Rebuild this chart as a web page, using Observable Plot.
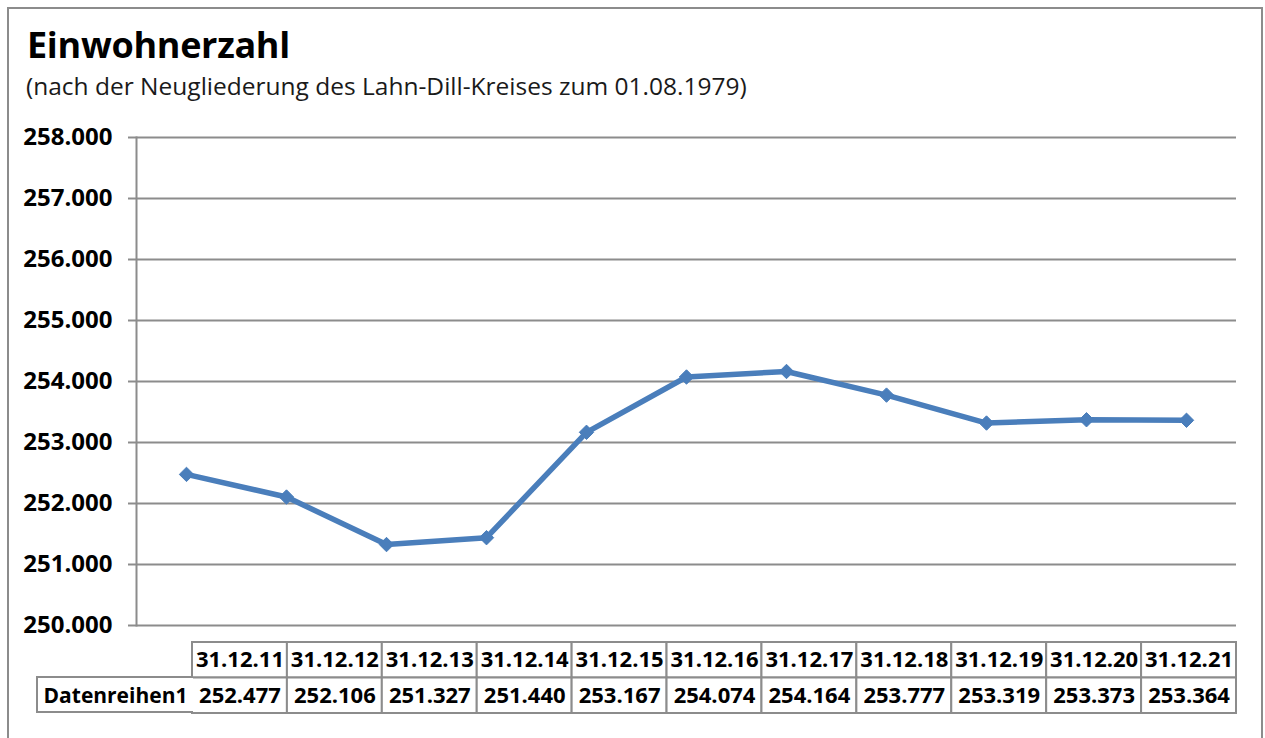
<!DOCTYPE html>
<html>
<head>
<meta charset="utf-8">
<script src="https://cdn.jsdelivr.net/npm/d3@7"></script>
<script src="https://cdn.jsdelivr.net/npm/@observablehq/plot@0.6"></script>
<style>
  html, body { margin: 0; padding: 0; background: #fff; overflow: hidden; }
  #wrap { position: relative; width: 1265px; height: 738px; font-family: "Open Sans", sans-serif; }
  #border { position: absolute; left: 7px; top: 7px; width: 1256px; height: 760px; border: 2px solid #8c8c8c; box-sizing: border-box; }
  #title { position: absolute; left: 27px; top: 27px; font-size: 36px; font-weight: bold; color: #000; line-height: 1; white-space: nowrap; letter-spacing: -0.3px; }
  #subtitle { position: absolute; left: 26px; top: 74px; font-size: 24.5px; color: #1a1a1a; line-height: 1; white-space: nowrap; }
  #chart { position: absolute; left: 0; top: 110px; }
  #table { position: absolute; left: 0; top: 641px; }
  #rowhead { position: absolute; left: 36px; top: 676px; width: 157px; height: 37px; box-sizing: border-box;
             border: 2px solid #8c8c8c; border-right: none; font-size: 21px; font-weight: bold; display: flex; align-items: center; justify-content: center; background: #fff; }
</style>
</head>
<body>
<div id="wrap">
  <div id="border"></div>
  <div id="title">Einwohnerzahl</div>
  <div id="subtitle">(nach der Neugliederung des Lahn-Dill-Kreises zum 01.08.1979)</div>
  <div id="chart"></div>
  <div id="table"></div>
  <div id="rowhead">Datenreihen1</div>
</div>
<script>
const dates = ["31.12.11","31.12.12","31.12.13","31.12.14","31.12.15","31.12.16","31.12.17","31.12.18","31.12.19","31.12.20","31.12.21"];
const population = [252477, 252106, 251327, 251440, 253167, 254074, 254164, 253777, 253319, 253373, 253364];
const yTicks = [250000, 251000, 252000, 253000, 254000, 255000, 256000, 257000, 258000];
const seriesName = "Datenreihen1";

const de = d3.formatLocale({decimal: ",", thousands: ".", grouping: [3], currency: ["", " €"]});
const fmt = de.format(",d");

const data = dates.map((d, i) => ({date: d, value: population[i]}));
const blue = "#4a7ebb";
const gray = "#8c8c8c";

const chart = Plot.plot({
  width: 1265,
  height: 530,
  marginTop: 27,
  marginBottom: 15,
  marginLeft: 136,
  marginRight: 29,
  style: {fontFamily: "Open Sans, sans-serif", fontSize: "24px", fontWeight: "bold", color: "#000", background: "transparent"},
  x: {type: "band", domain: dates, padding: 0, round: false, axis: null},
  y: {domain: [250000, 258000], ticks: yTicks},
  marks: [
    Plot.gridY(yTicks, {stroke: gray, strokeOpacity: 1, strokeWidth: 2}),
    Plot.axisY(yTicks, {tickSize: 8, tickPadding: 16, stroke: gray, strokeWidth: 2, tickFormat: fmt, label: null, fill: "#000", fontWeight: "bold"}),
    Plot.frame({anchor: "left", stroke: gray, strokeWidth: 2}),
    Plot.line(data, {x: "date", y: "value", stroke: blue, strokeWidth: 5.5, strokeLinejoin: "round"}),
    Plot.dot(data, {x: "date", y: "value", symbol: "diamond2", r: 6.5, fill: blue, stroke: blue, strokeWidth: 1})
  ]
});
document.getElementById("chart").appendChild(chart);

const rows = [
  ...dates.map(d => ({date: d, row: "head", label: d})),
  ...data.map(d => ({date: d.date, row: "val", label: fmt(d.value)}))
];

const table = Plot.plot({
  width: 1265,
  height: 73,
  marginTop: 1,
  marginBottom: 1,
  marginLeft: 192,
  marginRight: 29,
  style: {fontFamily: "Open Sans, sans-serif", fontSize: "22px", fontWeight: "bold", background: "transparent"},
  x: {type: "band", domain: dates, padding: 0, round: false, axis: null},
  y: {type: "band", domain: ["head", "val"], padding: 0, round: false, axis: null},
  marks: [
    Plot.cell(rows, {x: "date", y: "row", fill: "#fff", stroke: gray, strokeWidth: 2, inset: 0}),
    Plot.text(rows, {x: "date", y: "row", text: "label", fill: "#000", fontWeight: "bold", fontSize: 22})
  ]
});
document.getElementById("table").appendChild(table);
</script>
</body>
</html>
